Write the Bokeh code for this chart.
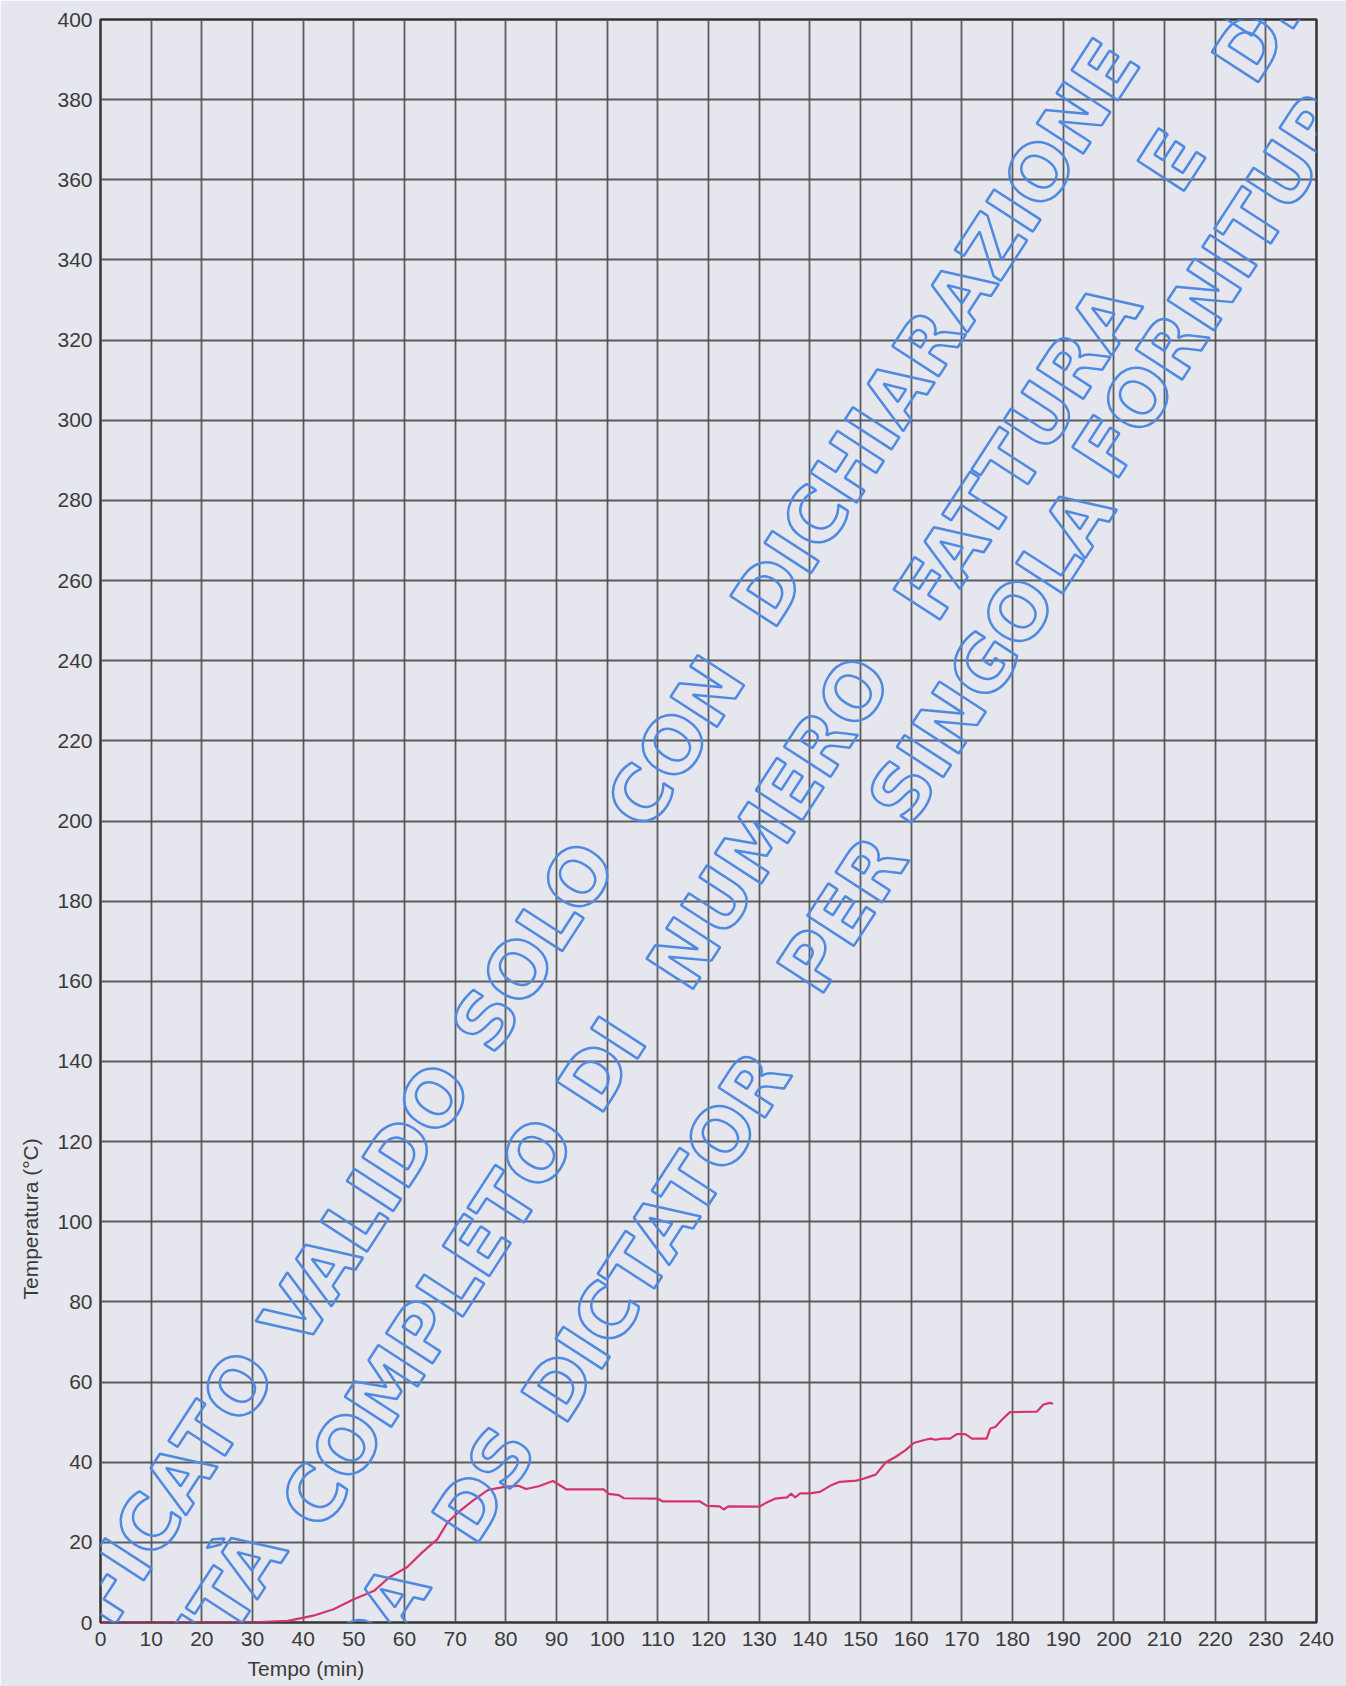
import math
from bokeh.plotting import figure
from bokeh.models import Range1d, FixedTicker, Label, Title
from bokeh.embed import file_html
from bokeh.resources import INLINE

# ---- data ----
tempo_min = [0, 10, 20, 30, 37, 42, 46, 50, 54, 57, 60.5, 63.5, 66.5, 68.5, 71, 73.5,
             76.5, 80, 82.5, 84, 86.5, 89.3, 92, 99.3, 100.3, 102.3, 103.3, 110, 111,
             118.3, 119.7, 122.2, 123, 123.9, 130.1, 131.4, 133.1, 135.5, 136.3, 137.1,
             138.1, 140, 142, 144, 145.9, 149.2, 150.4, 153, 155, 156.9, 158.9, 160.5,
             162.8, 163.8, 164.8, 166.1, 167.7, 169, 170.7, 172, 174.9, 175.6, 176.6,
             177.9, 179.5, 184.8, 186.1, 187.4, 188]
temperatura_c = [0, 0, 0, 0, 0.4, 1.7, 3.3, 5.8, 7.9, 11.3, 13.8, 17.5, 20.8, 25, 27.9, 30.4,
                 33.1, 33.9, 34.1, 33.3, 34, 35.3, 33.2, 33.2, 32.1, 31.8, 31, 30.9, 30.2,
                 30.2, 29.1, 29, 28.2, 29, 28.9, 29.9, 30.9, 31.2, 32.2, 31.2,
                 32.2, 32.2, 32.6, 34.1, 35.1, 35.4, 35.8, 36.9, 40, 41.3, 43, 44.8,
                 45.6, 45.9, 45.6, 45.9, 45.9, 47, 47, 45.9, 45.9, 48.4, 48.8,
                 50.6, 52.5, 52.6, 54.4, 54.8, 54.6]

x_ticks = [0, 10, 20, 30, 40, 50, 60, 70, 80, 90, 100, 110, 120, 130, 140, 150, 160,
           170, 180, 190, 200, 210, 220, 230, 240]
y_ticks = [0, 20, 40, 60, 80, 100, 120, 140, 160, 180, 200, 220, 240, 260, 280, 300,
           320, 340, 360, 380, 400]

x_title = "Tempo (min)"
y_title = "Temperatura (°C)"

# watermark words (text, x in min, y in °C)
watermark_words = [
    ("CERTIFICATO", 1.2, 8.3), ("VALIDO", 52.4, 104.3), ("SOLO", 85.5, 168.7),
    ("CON", 113.5, 219.7), ("DICHIARAZIONE", 164.8, 321.8), ("DI", 227.0, 407.7),
    ("CONFORMITÀ", 2.3, -37.9), ("COMPLETO", 64.5, 74.8), ("DI", 99.0, 139.2),
    ("NUMERO", 132.0, 199.6), ("FATTURA", 181.0, 292.2), ("E", 211.5, 364.8),
    ("D.D.T.", 237.0, 413.0),
    ("DA", 54.5, -0.4), ("DS", 75.8, 34.5),
    ("DICTATOR", 109.7, 96.3), ("PER", 146.5, 176.7), ("SINGOLA", 175.8, 241.5),
    ("FORNITURA", 222.6, 340.0),
]

BG = "#e6e7ee"
GRID = "#4d4d4d"
TXT = "#3a3a3a"

p = figure(width=1346, height=1686, output_backend="svg", toolbar_location=None,
           x_range=Range1d(0, 240), y_range=Range1d(0, 400),
           min_border_left=100, min_border_right=30, min_border_top=19, min_border_bottom=64)
p.background_fill_color = BG
p.border_fill_color = BG
p.outline_line_color = "#333333"
p.outline_line_width = 2.5

for ax, ticks, standoff in ((p.xaxis, x_ticks, 9), (p.yaxis, y_ticks, 8)):
    ax.ticker = FixedTicker(ticks=ticks)
    ax.axis_line_color = None
    ax.major_tick_line_color = None
    ax.minor_tick_line_color = None
    ax.major_tick_out = 0
    ax.major_tick_in = 0
    ax.major_label_standoff = standoff
    ax.major_label_text_font = "Liberation Sans"
    ax.major_label_text_font_size = "21px"
    ax.major_label_text_color = TXT

for g in (p.xgrid, p.ygrid):
    g.grid_line_color = GRID
    g.grid_line_width = 1.8
    g.grid_line_alpha = 0.9

p.line(tempo_min, temperatura_c, line_color="#d6336c", line_width=2.2)

p.add_layout(Title(text=y_title, align="left", offset=323, standoff=26,
                   text_font="Liberation Sans", text_font_style="normal",
                   text_font_size="21px", text_color=TXT), "left")
p.add_layout(Title(text=x_title, align="left", offset=147, standoff=13,
                   text_font="Liberation Sans", text_font_style="normal",
                   text_font_size="21px", text_color=TXT), "below")

ang = math.radians(57)
for word, wx, wy in watermark_words:
    p.add_layout(Label(x=wx, y=wy, text=word, angle=ang,
                       text_align="center", text_baseline="middle",
                       text_font="DejaVu Sans", text_font_style="bold",
                       text_font_size="76px", text_color="rgba(0,0,0,0)",
                       text_outline_color="#4f8ae0"))

open("out.html", "w").write(file_html(p, INLINE))
